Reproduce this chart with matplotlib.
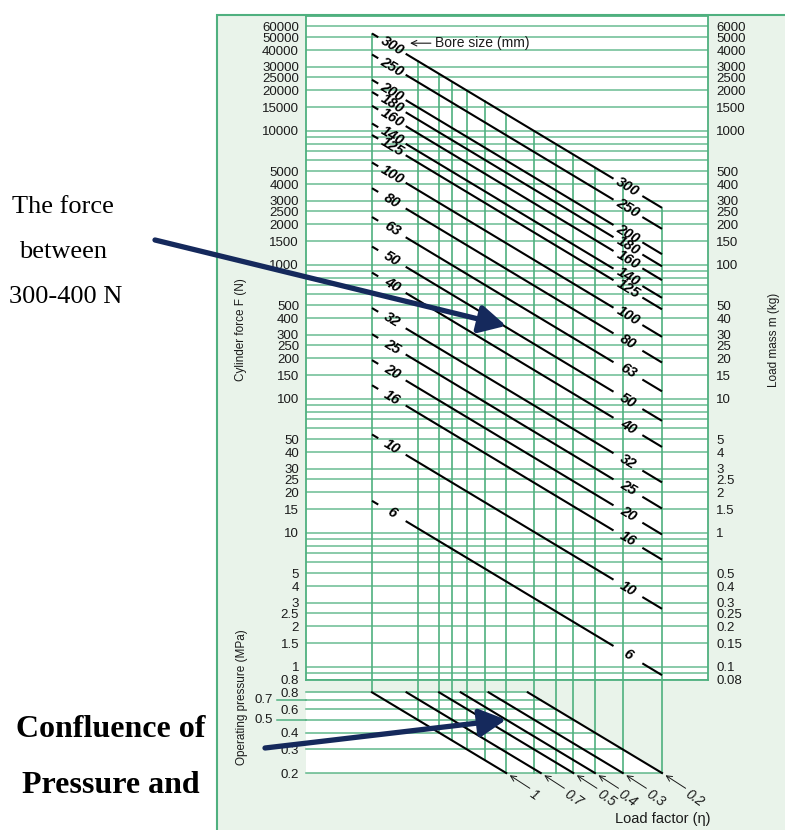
import numpy as np
import matplotlib.pyplot as plt
from matplotlib.patches import Polygon, Rectangle
from matplotlib.ticker import NullLocator
import matplotlib.transforms as mtransforms

plt.rcParams['font.family'] = ['Liberation Sans', 'DejaVu Sans']

# bore size (mm) and the force (N) each line starts from at 0.8 MPa, load factor 1
bores = [300, 250, 200, 180, 160, 140, 125, 100, 80, 63, 50, 40, 32, 25, 20, 16, 10, 6]
force_start = [53150, 37040, 23980, 19450, 15340, 11320, 9290, 5790, 3724, 2270,
               1367, 873, 475, 303, 194, 126, 54.1, 17.3]

# load factor lines in the pressure section
load_factors = [1, 0.7, 0.5, 0.4, 0.3, 0.2]
eta_labels = ['1', '0.7', '0.5', '0.4', '0.3', '0.2']

# pressure x load factor (MPa) where the vertical guide lines sit
guides = [0.8, 0.5, 0.4, 0.35, 0.3, 0.25, 0.2, 0.15, 0.12, 0.1, 0.08, 0.06, 0.04]

force_ticks = [60000, 50000, 40000, 30000, 25000, 20000, 15000, 10000, 5000, 4000, 3000,
               2500, 2000, 1500, 1000, 500, 400, 300, 250, 200, 150, 100, 50, 40, 30, 25,
               20, 15, 10, 5, 4, 3, 2.5, 2, 1.5, 1, 0.8]
mass_ticks = [6000, 5000, 4000, 3000, 2500, 2000, 1500, 1000, 500, 400, 300, 250, 200, 150,
              100, 50, 40, 30, 25, 20, 15, 10, 5, 4, 3, 2.5, 2, 1.5, 1, 0.5, 0.4, 0.3, 0.25,
              0.2, 0.15, 0.1, 0.08]
pressure_grid = [0.8, 0.7, 0.6, 0.5, 0.4, 0.3, 0.2]
pressure_ticks = [0.8, 0.6, 0.4, 0.3, 0.2]
pressure_ticks_outer = [0.7, 0.5]

GREEN = '#4fb07f'
BG = '#e9f3ea'
NAVY = '#15295c'
INK = '#1a1a1a'

W, H = 785, 830
fig = plt.figure(figsize=(W / 100, H / 100), dpi=100)


def px_box(x0, y0, x1, y1):
    return [x0 / W, 1 - y1 / H, (x1 - x0) / W, (y1 - y0) / H]


# light green backing panel
fig.patches.append(Rectangle((217 / W, -0.01), (W - 217 + 10) / W, (H - 15) / H + 0.01,
                             transform=fig.transFigure, facecolor=BG, edgecolor=GREEN,
                             lw=1.5, zorder=-1))

xlim = (1.582, 0.02487)

# ---- main force chart ----
ax = fig.add_axes(px_box(306, 16, 708, 679.7))
ax.set_xscale('log')
ax.set_yscale('log')
ax.set_xlim(*xlim)
ax.set_ylim(0.8, 71800)
ax.set_facecolor('white')
for s in ax.spines.values():
    s.set_color(GREEN)
    s.set_linewidth(1.3)

# horizontal grid
grid_vals = []
for k in range(-1, 5):
    for m in [1, 1.5, 2, 2.5, 3, 4, 5, 6, 7, 8, 9]:
        v = m * 10 ** k
        if 0.8 <= v <= 60000:
            grid_vals.append(v)
for v in grid_vals:
    ax.axhline(v, color=GREEN, lw=1.1, alpha=0.85, zorder=1)

# vertical guides start at the 300 mm line
for v in guides:
    ax.plot([v, v], [force_start[0] * v / 0.8, 0.8], color=GREEN, lw=1.2, zorder=1)

ax.set_yticks(force_ticks)
ax.set_yticklabels([f'{v:g}' for v in force_ticks])
ax.yaxis.set_minor_locator(NullLocator())
ax.xaxis.set_major_locator(NullLocator())
ax.xaxis.set_minor_locator(NullLocator())
ax.tick_params(axis='y', length=0, pad=5, labelsize=9.5, labelcolor=INK)
ax.set_ylabel('Cylinder force F (N)', fontsize=8.5, color=INK)
ax.yaxis.set_label_coords(-0.147, 0.527)

ax2 = ax.twinx()
ax2.set_yscale('log')
ax2.set_ylim(0.08, 7180)
ax2.set_yticks(mass_ticks)
ax2.set_yticklabels([f'{v:g}' for v in mass_ticks])
ax2.yaxis.set_minor_locator(NullLocator())
ax2.tick_params(axis='y', length=0, pad=6, labelsize=9.5, labelcolor=INK)
ax2.set_ylabel('Load mass m (kg)', fontsize=8.5, color=INK)
ax2.yaxis.set_label_coords(1.149, 0.512)
for s in ax2.spines.values():
    s.set_visible(False)

# slope of the bore lines on screen
p1 = ax.transData.transform((0.8, 1000))
p2 = ax.transData.transform((0.04, 50))
angle = np.degrees(np.arctan2(p2[1] - p1[1], p2[0] - p1[0]))

pieces = [(0.8, 0.75), (0.565, 0.066), (0.049, 0.04)]
for d, f0 in zip(bores, force_start):
    for a, b in pieces:
        ax.plot([a, b], [f0 * a / 0.8, f0 * b / 0.8], color='black', lw=1.5,
                solid_capstyle='butt', zorder=3)
    for xl in (0.65, 0.0569):
        ax.text(xl, f0 * xl / 0.8, str(d), rotation=angle, rotation_mode='anchor',
                ha='center', va='center', fontsize=10.5, fontweight='bold',
                fontstyle='italic', color='black', zorder=4)

ax.annotate('Bore size (mm)', xy=(0.54, 45000), xytext=(18, 0),
            textcoords='offset points', ha='left', va='center', fontsize=10, color=INK,
            arrowprops=dict(arrowstyle='->', color=INK, lw=0.8, shrinkA=1, shrinkB=0))

# ---- pressure / load factor section ----
axl = fig.add_axes(px_box(306, 679.7, 708, 773))
axl.set_xscale('log')
axl.set_yscale('log')
axl.set_xlim(*xlim)
axl.set_ylim(0.2, 0.994)
axl.set_facecolor('none')
for s in axl.spines.values():
    s.set_visible(False)

x_left = xlim[0]
axl.add_patch(Polygon([(x_left, 0.8), (0.8 * 0.2, 0.8), (0.2 * 0.2, 0.2), (x_left, 0.2)],
                      closed=True, facecolor='white', edgecolor='none', zorder=0))
for p in pressure_grid:
    axl.plot([x_left, 0.2 * p], [p, p], color=GREEN, lw=1.1, alpha=0.9,
             clip_on=False, zorder=1)

blend = mtransforms.blended_transform_factory(axl.transAxes, axl.transData)
for p in pressure_ticks_outer:
    axl.plot([-0.072, 0], [p, p], color=GREEN, lw=1.1, transform=blend, clip_on=False)
    axl.text(-0.082, p, f'{p:g}', transform=blend, ha='right', va='center',
             fontsize=9.5, color=INK)

for v in guides:
    axl.plot([v, v], [0.994, max(v, 0.2)], color=GREEN, lw=1.2, clip_on=False, zorder=1)

for eta, lab in zip(load_factors, eta_labels):
    axl.plot([0.8 * eta, 0.2 * eta], [0.8, 0.2], color='black', lw=1.5, zorder=3,
             clip_on=False)
    end = (0.2 * eta, 0.2)
    axl.annotate('', xy=end, xytext=(17, -11), textcoords='offset points',
                 arrowprops=dict(arrowstyle='->', color=INK, lw=0.7, shrinkA=0, shrinkB=3),
                 annotation_clip=False)
    axl.annotate(lab, xy=end, xytext=(18, -14), textcoords='offset points',
                 ha='left', va='center', rotation=-35, rotation_mode='anchor',
                 fontsize=10, fontstyle='italic', color=INK, annotation_clip=False)

axl.set_yticks(pressure_ticks)
axl.set_yticklabels([f'{v:g}' for v in pressure_ticks])
axl.yaxis.set_minor_locator(NullLocator())
axl.xaxis.set_major_locator(NullLocator())
axl.xaxis.set_minor_locator(NullLocator())
axl.tick_params(axis='y', length=0, pad=5, labelsize=9.5, labelcolor=INK)
axl.set_ylabel('Operating pressure (MPa)', fontsize=8.5, color=INK)
axl.yaxis.set_label_coords(-0.144, 0.815)

fig.text(663 / W, 1 - 819 / H, 'Load factor (\u03b7)', ha='center', va='center',
         fontsize=10.5, color=INK)

# ---- call-outs ----
serif = ['Liberation Serif', 'DejaVu Serif']
fig.text(63 / W, 1 - 207 / H, 'The force', ha='center', va='center', fontsize=19,
         family=serif, color='black')
fig.text(63 / W, 1 - 252 / H, 'between', ha='center', va='center', fontsize=19,
         family=serif, color='black')
fig.text(66 / W, 1 - 297 / H, '300-400 N', ha='center', va='center', fontsize=19,
         family=serif, color='black')
fig.text(111 / W, 1 - 729 / H, 'Confluence of', ha='center', va='center', fontsize=23,
         fontweight='bold', family=serif, color='black')
fig.text(111 / W, 1 - 785 / H, 'Pressure and', ha='center', va='center', fontsize=23,
         fontweight='bold', family=serif, color='black')

arrow_style = '-|>,head_length=0.8,head_width=0.42'
ax.annotate('', xy=(0.2, 350), xytext=(155, H - 240), textcoords='figure pixels',
            arrowprops=dict(arrowstyle=arrow_style, color=NAVY, lw=3.8,
                            mutation_scale=20, shrinkA=0, shrinkB=0),
            annotation_clip=False, zorder=10)
axl.annotate('', xy=(0.2, 0.5), xytext=(265, H - 748), textcoords='figure pixels',
             arrowprops=dict(arrowstyle=arrow_style, color=NAVY, lw=3.8,
                             mutation_scale=20, shrinkA=0, shrinkB=0),
             annotation_clip=False, zorder=10)

fig.savefig('out.png', dpi=100)
